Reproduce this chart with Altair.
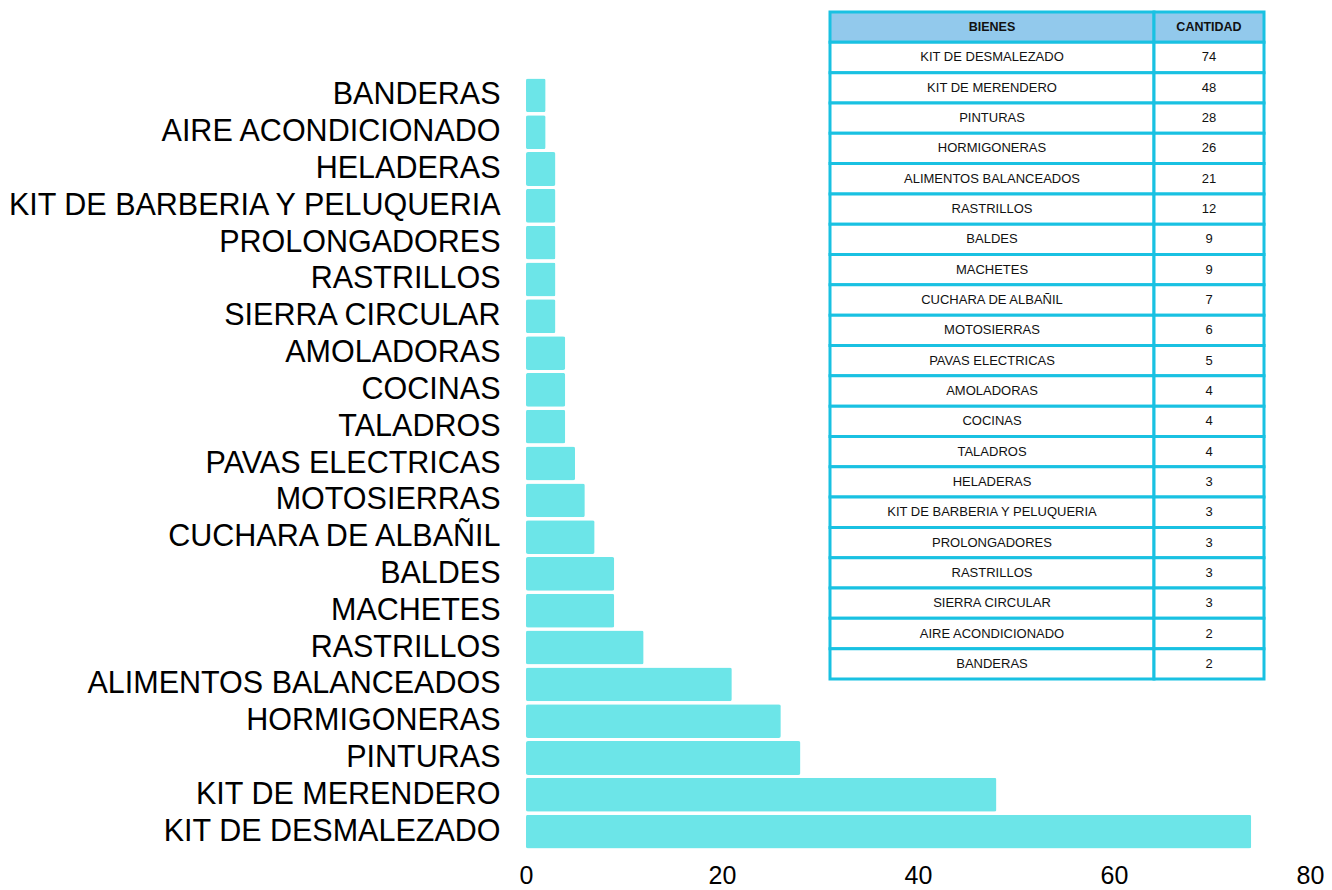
import altair as alt
import pandas as pd

# Chart order, top to bottom
chart_names = ["BANDERAS", "AIRE ACONDICIONADO", "HELADERAS", "KIT DE BARBERIA Y PELUQUERIA",
               "PROLONGADORES", "RASTRILLOS", "SIERRA CIRCULAR", "AMOLADORAS", "COCINAS",
               "TALADROS", "PAVAS ELECTRICAS", "MOTOSIERRAS", "CUCHARA DE ALBAÑIL", "BALDES",
               "MACHETES", "RASTRILLOS", "ALIMENTOS BALANCEADOS", "HORMIGONERAS", "PINTURAS",
               "KIT DE MERENDERO", "KIT DE DESMALEZADO"]
chart_values = [2, 2, 3, 3, 3, 3, 3, 4, 4, 4, 5, 6, 7, 9, 9, 12, 21, 26, 28, 48, 74]

# Table order
table_names = ["KIT DE DESMALEZADO", "KIT DE MERENDERO", "PINTURAS", "HORMIGONERAS",
               "ALIMENTOS BALANCEADOS", "RASTRILLOS", "BALDES", "MACHETES", "CUCHARA DE ALBAÑIL",
               "MOTOSIERRAS", "PAVAS ELECTRICAS", "AMOLADORAS", "COCINAS", "TALADROS", "HELADERAS",
               "KIT DE BARBERIA Y PELUQUERIA", "PROLONGADORES", "RASTRILLOS", "SIERRA CIRCULAR",
               "AIRE ACONDICIONADO", "BANDERAS"]
table_values = [74, 48, 28, 26, 21, 12, 9, 9, 7, 6, 5, 4, 4, 4, 3, 3, 3, 3, 3, 2, 2]
table_headers = ["BIENES", "CANTIDAD"]
x_ticks = [0, 20, 40, 60, 80]

FONT = "Liberation Sans"
BAR = "#6ce5e8"
BORDER = "#19c1e2"
HEAD = "#92c9ec"

bars_df = pd.DataFrame({
    "idx": [f"{i:02d}" for i in range(len(chart_names))],
    "name": chart_names,
    "value": chart_values,
})
label_arr = "[" + ",".join("'" + n + "'" for n in chart_names) + "]"

bars = alt.Chart(bars_df).mark_bar(color=BAR, cornerRadius=2).encode(
    x=alt.X("value:Q", scale=alt.Scale(domain=[0, 80]),
            axis=alt.Axis(values=x_ticks, title=None, grid=False, domain=False,
                          ticks=False, labelFontSize=25, labelFont=FONT, labelColor="#000",
                          labelPadding=13, labelFlush=False)),
    y=alt.Y("idx:O", sort=None, scale=alt.Scale(paddingInner=0.08, paddingOuter=0.04),
            axis=alt.Axis(title=None, domain=False, ticks=False, labelFontSize=30.5,
                          labelFont=FONT, labelColor="#000", labelPadding=26,
                          labelLimit=700, labelExpr=label_arr + "[toNumber(datum.value)]")),
)

# Table data
rows = ["h"] + [f"r{i:02d}" for i in range(len(table_names))]
tab_df = pd.DataFrame({
    "row": rows,
    "bien": [table_headers[0]] + table_names,
    "cant": [table_headers[1]] + [str(v) for v in table_values],
    "header": [True] + [False] * len(table_names),
})

row_scale = alt.Scale(domain=rows, range=[-65, 602], paddingInner=0, paddingOuter=0)
y_row = alt.Y("row:O", sort=None, scale=row_scale, axis=None)
y_mid = alt.Y("row:O", sort=None, scale=row_scale, axis=None, bandPosition=0.5)
fill_enc = alt.condition("datum.header", alt.value(HEAD), alt.value("white"))

L0, L1, L2 = 304, 628, 738

base = alt.Chart(tab_df)
rect1 = base.mark_rect(stroke=BORDER, strokeWidth=3).encode(
    x=alt.value(L0), x2=alt.value(L1), y=y_row, fill=fill_enc)
rect2 = base.mark_rect(stroke=BORDER, strokeWidth=3).encode(
    x=alt.value(L1), x2=alt.value(L2), y=y_row, fill=fill_enc)

body = base.transform_filter("!datum.header")
head = base.transform_filter("datum.header")

text1 = body.mark_text(font=FONT, fontSize=13, color="#111").encode(
    x=alt.value((L0 + L1) / 2), y=y_mid, text="bien:N")
text2 = body.mark_text(font=FONT, fontSize=13, color="#111").encode(
    x=alt.value((L1 + L2) / 2), y=y_mid, text="cant:N")
htext1 = head.mark_text(font=FONT, fontSize=12.5, fontWeight="bold", color="#111").encode(
    x=alt.value((L0 + L1) / 2), y=y_mid, text="bien:N")
htext2 = head.mark_text(font=FONT, fontSize=12.5, fontWeight="bold", color="#111").encode(
    x=alt.value((L1 + L2) / 2), y=y_mid, text="cant:N")

table = alt.layer(rect1, rect2, text1, text2, htext1, htext2)

chart = alt.layer(bars, table).resolve_scale(y="independent").properties(
    width=784, height=773,
    autosize="none",
    padding={"left": 518, "top": 69, "right": 14, "bottom": 40},
).configure(font=FONT, background="white", view=alt.ViewConfig(stroke=None))

chart.save("out.html", embed_options={"renderer": "svg", "actions": False})
